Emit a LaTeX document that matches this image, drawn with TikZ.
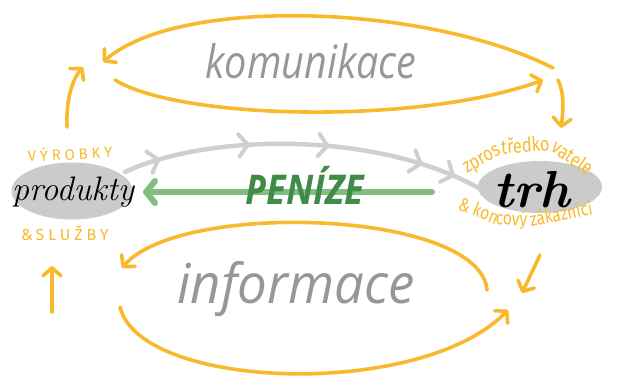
\documentclass[tikz,border=0pt]{standalone}
\usepackage{fontspec}
\newfontfamily\handfont{Open Sans}
\newfontfamily\smallhand[LetterSpace=25]{Fira Sans}
\newfontfamily\smallhandlc{Fira Sans}
\usetikzlibrary{arrows.meta,decorations.markings,shapes.geometric}
\definecolor{org}{HTML}{F8BA2C}
\definecolor{ellgray}{HTML}{CBCBCB}
\definecolor{arcgray}{HTML}{CFCFCF}
\definecolor{txtgray}{HTML}{979797}
\definecolor{lgreen}{HTML}{80BF80}
\definecolor{dgreen}{HTML}{3F8B47}
\newcommand{\narrowtxt}[1]{\scalebox{0.82}[1]{#1}}
\begin{document}
\begin{tikzpicture}[x=1pt,y=-1pt,
  oarrow/.style={draw=org,line width=3.6pt,line cap=round,
    -{Straight Barb[length=8pt,width=18pt,line cap=round,line join=round]}},
  blob/.style={ellipse,fill=ellgray,inner sep=0pt},
  bigword/.style={text=txtgray,font=\handfont\itshape\fontsize{46}{46}\selectfont},
  smalltag/.style={text=org,font=\smallhand\fontsize{15}{15}\selectfont},
  arctag/.style={text=org,inner sep=0pt,outer sep=0pt,anchor=base west,font=\smallhandlc\fontsize{20}{20}\selectfont},
  grayhead/.style={line width=4pt,arcgray},
]
\useasboundingbox (0,0) rectangle (623,382);

% coordinates for loops
\coordinate (ku1) at (553,68);
\coordinate (ku2) at (103,62);
\coordinate (kl1) at (115,80);
\coordinate (kl2) at (543,80);
\coordinate (la1) at (67,127);
\coordinate (la2) at (83,67);
\coordinate (ra1) at (558,80);
\coordinate (ra2) at (561,128);
\coordinate (iu1) at (487,290);
\coordinate (iu2) at (122,268);
\coordinate (il1) at (120,307);
\coordinate (il2) at (508,310);
\coordinate (lb1) at (52,312);
\coordinate (lb2) at (52,266);
\coordinate (rb1) at (540,255);
\coordinate (rb2) at (522,293);
\coordinate (g1) at (125,172);
\coordinate (g2) at (492,196);
\coordinate (m1) at (432,192);
\coordinate (m2) at (143,192);
\coordinate (zs) at (467,174);
\coordinate (ks) at (457,209);

% gray product arc (behind ellipses)
\draw[arcgray,line width=4.5pt,line cap=round,
  postaction={decorate,decoration={markings,
    mark=at position 0.1 with {\arrow[grayhead]{Straight Barb[length=9pt,width=22pt,line cap=round]}},
    mark=at position 0.34 with {\arrow[grayhead]{Straight Barb[length=9pt,width=22pt,line cap=round]}},
    mark=at position 0.55 with {\arrow[grayhead]{Straight Barb[length=9pt,width=22pt,line cap=round]}},
    mark=at position 0.8 with {\arrow[grayhead]{Straight Barb[length=9pt,width=22pt,line cap=round]}},
    mark=at position 0.89 with {\arrow[grayhead]{Straight Barb[length=9pt,width=22pt,line cap=round]}}}}]
  (g1) .. controls (210,132) and (390,130) .. (g2);

% ellipses
\node[blob,minimum width=121pt,minimum height=57pt] (prodbg) at (72,191) {};
\node[blob,minimum width=124pt,minimum height=52pt] (trhbg) at (540,187) {};
\node[font=\itshape\fontsize{34}{34}\selectfont] (prod) at (73,192) {produkty};
\node[inner sep=0pt,font=\bfseries\itshape\fontsize{52}{52}\selectfont] (trh) at (532,190) {trh};

% money arrow
\draw[lgreen,line width=6pt,line cap=round,
  -{Straight Barb[length=9pt,width=22pt,line cap=round,line join=round]}] (m1) -- (m2);
\node[text=dgreen,font=\handfont\bfseries\itshape\fontsize{41}{41}\selectfont] (pen) at (305,185)
  {\scalebox{0.88}[1]{PENÍZE}};

% komunikace loop
\draw[oarrow] (ku1) .. controls (430,5) and (180,-5) .. (ku2);
\draw[oarrow] (kl1) .. controls (180,120) and (420,125) .. (kl2);
\draw[oarrow] (la1) .. controls (66,100) and (72,80) .. (la2);
\draw[oarrow] (ra1) .. controls (565,95) and (563,112) .. (ra2);
\node[bigword] (kom) at (311,61) {\scalebox{0.86}[1]{komunikace}};

% informace loop
\draw[oarrow] (iu1) .. controls (480,210) and (180,200) .. (iu2);
\draw[oarrow] (il1) .. controls (140,390) and (420,400) .. (il2);
\draw[oarrow] (lb1) -- (lb2);
\draw[oarrow] (rb1) -- (rb2);
\node[bigword,font=\handfont\itshape\fontsize{55}{55}\selectfont] (inf) at (296,289) {\scalebox{0.96}[1]{informace}};

% small tags
\node[smalltag,rotate=3] (vyr) at (70,153) {VÝROBKY};
\node[smalltag,font=\smallhand\fontsize{16}{16}\selectfont] (slu) at (65,233) {\&\,SLUŽBY};

\node[arctag,rotate=30] (zp1) at (zs) {\narrowtxt{zpros}};
\node[arctag,rotate=4] (zp2) at (zp1.base east) {\narrowtxt{tředko}};
\node[arctag,rotate=-34] (zp3) at (zp2.base east) {\narrowtxt{vatele}};

\node[arctag,rotate=-22,font=\smallhandlc\fontsize{19}{19}\selectfont] (ko1) at (ks) {\narrowtxt{\& kon}};
\node[arctag,rotate=-3,font=\smallhandlc\fontsize{19}{19}\selectfont] (ko2) at (ko1.base east) {\narrowtxt{cový\ }};
\node[arctag,rotate=11,font=\smallhandlc\fontsize{19}{19}\selectfont] (ko3) at (ko2.base east) {\narrowtxt{zákazníci}};
\end{tikzpicture}
\end{document}
